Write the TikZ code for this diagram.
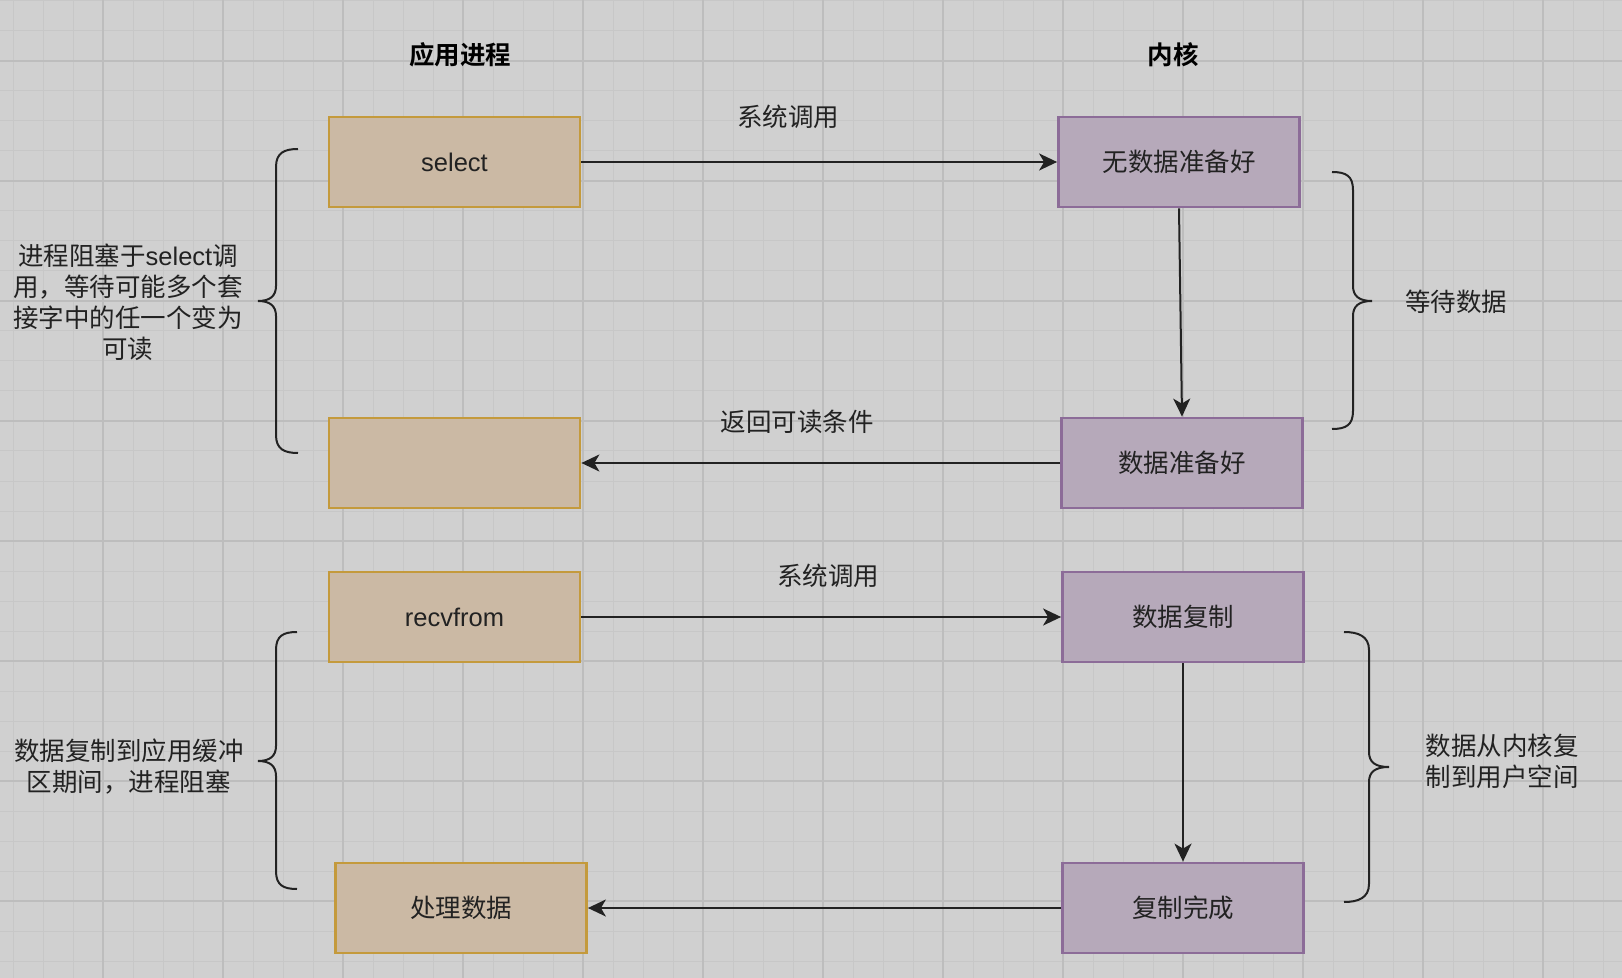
\documentclass[tikz,border=0pt]{standalone}
\usepackage{fontspec}
\setmainfont{Liberation Sans}
\newfontfamily\cjk{Noto Sans CJK SC}[BoldFont={* Bold}]
\usetikzlibrary{arrows.meta}
\definecolor{bg}{HTML}{D0D0D0}
\definecolor{gminor}{HTML}{C7C7C7}
\definecolor{gmajor}{HTML}{BDBDBD}
\definecolor{appfill}{HTML}{CBB9A4}
\definecolor{appline}{HTML}{C49A3C}
\definecolor{kfill}{HTML}{B6A9BA}
\definecolor{kline}{HTML}{8C6C98}
\definecolor{ink}{HTML}{222222}
\begin{document}
\begin{tikzpicture}[x=0.5pt,y=-0.5pt,
  txt/.style={font=\fontsize{12.75pt}{15.5pt}\selectfont, text=ink, inner sep=0pt},
  appbox/.style={txt, draw=appline, fill=appfill, line width=1.4pt, minimum width=125.5pt, minimum height=45pt},
  kbox/.style={txt, draw=kline, fill=kfill, line width=1.4pt, minimum width=120.5pt, minimum height=45pt},
  conn/.style={draw=ink, line width=1pt, -{Stealth[length=9pt,width=8.5pt,inset=2.5pt]}},
  brc/.style={draw=ink, line width=1pt},
  lbl/.style={txt, align=center},
  ttl/.style={txt, font=\fontsize{12.75pt}{15.5pt}\selectfont\cjk\bfseries, text=black}
]
\fill[bg] (0,0) rectangle (1622,978);
\useasboundingbox (0,0) rectangle (1622,978);
\foreach \x in {13,43,...,1603} \draw[gminor, line width=0.5pt] (\x,0) -- (\x,978);
\foreach \y in {1,31,...,961} \draw[gminor, line width=0.5pt] (0,\y) -- (1622,\y);
\foreach \x in {103,223,...,1543} \draw[gmajor, line width=0.6pt] (\x,0) -- (\x,978);
\foreach \y in {61,181,...,901} \draw[gmajor, line width=0.6pt] (0,\y) -- (1622,\y);

% titles
\node[ttl] (tapp) at (460,55) {应用进程};
\node[ttl] (tker) at (1173,55) {内核};

% boxes
\node[appbox] (sel) at (454.5,162) {select};
\node[kbox] (nodata) at (1179,162) {\cjk 无数据准备好};
\node[appbox] (empty) at (454.5,463) {};
\node[kbox] (ready) at (1182,463) {\cjk 数据准备好};
\node[appbox] (recv) at (454.5,617) {recvfrom};
\node[kbox] (copy) at (1183,617) {\cjk 数据复制};
\node[appbox] (proc) at (461,908) {\cjk 处理数据};
\node[kbox] (done) at (1183,908) {\cjk 复制完成};

% connectors
\draw[conn] (sel) -- (nodata);
\draw[conn] (nodata.south) -- (ready.north);
\draw[conn] (ready) -- (empty);
\draw[conn] (recv) -- (copy);
\draw[conn] (copy) -- (done);
\draw[conn] (done) -- (proc);

% connector labels
\node[lbl] (lab1) at (788,117) {\cjk 系统调用};
\node[lbl] (lab2) at (797,422) {\cjk 返回可读条件};
\node[lbl] (lab3) at (828,576) {\cjk 系统调用};

% side texts
\node[lbl] (side1) at (128,302) {{\cjk 进程阻塞于}select{\cjk 调}\\{\cjk 用，等待可能多个套}\\{\cjk 接字中的任一个变为}\\{\cjk 可读}};
\node[lbl] (side2) at (129,767) {\cjk 数据复制到应用缓冲\\\cjk 区期间，进程阻塞};
\node[lbl] (side3) at (1456,302) {\cjk 等待数据};
\node[lbl] (side4) at (1502,761) {\cjk 数据从内核复\\\cjk 制到用户空间};

% braces
\draw[brc] (298,149) .. controls (284,149) and (276,153) .. (276,167) -- (276,286)
  .. controls (276,296) and (270,301) .. (258,301)
  .. controls (270,301) and (276,306) .. (276,316) -- (276,435)
  .. controls (276,449) and (284,453) .. (298,453);
\draw[brc] (1332,172) .. controls (1346,172) and (1353,176) .. (1353,190) -- (1353,286)
  .. controls (1353,296) and (1359,301) .. (1372,301)
  .. controls (1359,301) and (1353,306) .. (1353,316) -- (1353,411)
  .. controls (1353,425) and (1346,429) .. (1332,429);
\draw[brc] (297,632) .. controls (283,632) and (276,636) .. (276,650) -- (276,746)
  .. controls (276,756) and (270,761) .. (258,761)
  .. controls (270,761) and (276,766) .. (276,776) -- (276,871)
  .. controls (276,885) and (283,889) .. (297,889);
\draw[brc] (1344,632) .. controls (1358,632) and (1369,636) .. (1369,650) -- (1369,752)
  .. controls (1369,762) and (1375,767) .. (1389,767)
  .. controls (1375,767) and (1369,772) .. (1369,782) -- (1369,884)
  .. controls (1369,898) and (1358,902) .. (1344,902);
\end{tikzpicture}
\end{document}
